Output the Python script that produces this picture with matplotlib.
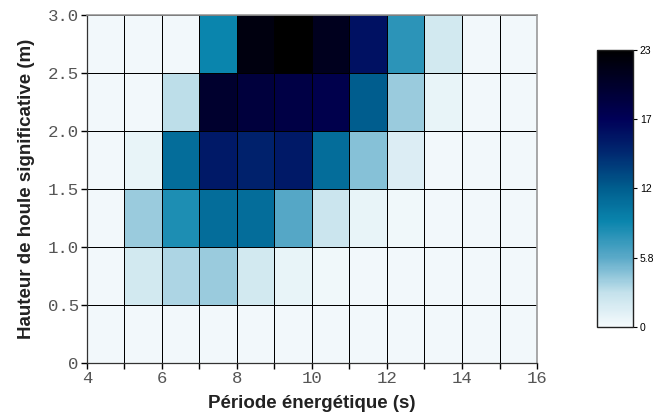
import numpy as np
import matplotlib
matplotlib.use("Agg")
import matplotlib.pyplot as plt
from matplotlib.colors import LinearSegmentedColormap

# Data
period_edges = [4, 5, 6, 7, 8, 9, 10, 11, 12, 13, 14, 15, 16]
height_edges = [0.0, 0.5, 1.0, 1.5, 2.0, 2.5, 3.0]
# rows from bottom (0-0.5) to top (2.5-3.0), columns period 4..15
occurrence = [
    [0.2, 0.2, 0.2, 0.2, 0.2, 0.2, 0.2, 0.2, 0.2, 0.2, 0.2, 0.2],
    [0.2, 2.0, 3.5, 4.0, 2.0, 0.8, 0.3, 0.2, 0.2, 0.2, 0.2, 0.2],
    [0.2, 4.0, 8.0, 10.5, 10.5, 6.0, 2.5, 0.8, 0.3, 0.2, 0.2, 0.2],
    [0.2, 0.8, 10.5, 15.5, 15.0, 15.5, 10.5, 4.5, 1.5, 0.2, 0.2, 0.2],
    [0.2, 0.2, 3.0, 20.0, 19.0, 18.5, 18.0, 11.5, 4.0, 0.8, 0.2, 0.2],
    [0.2, 0.2, 0.2, 8.8, 22.0, 23.0, 21.0, 16.0, 7.5, 2.0, 0.2, 0.2],
]
cbar_ticks = [0, 5.75, 11.5, 17.25, 23]
cbar_ticklabels = ["0", "5.8", "12", "17", "23"]
x_ticklabels = ["4", "6", "8", "10", "12", "14", "16"]
y_ticklabels = ["0", "0.5", "1.0", "1.5", "2.0", "2.5", "3.0"]

cmap = LinearSegmentedColormap.from_list(
    "houle",
    [(0.0, "#f5fafc"), (0.12, "#c5e2ec"), (0.25, "#5aa9c8"), (0.38, "#0a85ad"),
     (0.5, "#005e8e"), (0.63, "#002870"), (0.75, "#000058"), (1.0, "#000000")])

fig = plt.figure(figsize=(6.56, 4.15), dpi=100)
ax = fig.add_axes([0.1326, 0.1253, 0.686, 0.8386])
Z = np.array(occurrence)
mesh = ax.pcolormesh(period_edges, height_edges, Z, cmap=cmap, vmin=0, vmax=23,
                     edgecolors="black", linewidth=0.6)
ax.set_xlim(4, 16)
ax.set_ylim(0, 3)

mono = "Liberation Mono"
ax.set_xticks([4, 6, 8, 10, 12, 14, 16])
ax.set_xticklabels(x_ticklabels, fontfamily=mono, fontsize=12.5, color="#555555")
ax.set_xticks(range(5, 16, 2), minor=True)
ax.set_yticks([0, 0.5, 1.0, 1.5, 2.0, 2.5, 3.0])
ax.set_yticklabels(y_ticklabels, fontfamily=mono, fontsize=12.5, color="#555555")
ax.tick_params(axis="both", which="both", direction="out", length=4, width=1, color="black")
ax.tick_params(axis="x", which="major", pad=2)
ax.tick_params(axis="y", which="major", pad=2)

for s in ["top", "right"]:
    ax.spines[s].set_color("#999999")
    ax.spines[s].set_linewidth(1.2)
for s in ["left", "bottom"]:
    ax.spines[s].set_color("#333333")
    ax.spines[s].set_linewidth(0.9)

ax.set_xlabel("Période énergétique (s)", fontfamily="Liberation Sans", fontweight="bold",
              fontsize=13.5, color="#222222", labelpad=6)
ax.set_ylabel("Hauteur de houle significative (m)", fontfamily="Liberation Sans",
              fontweight="bold", fontsize=13.5, color="#222222", labelpad=9)

cax = fig.add_axes([0.910, 0.212, 0.0549, 0.668])
cb = fig.colorbar(mesh, cax=cax)
cb.set_ticks(cbar_ticks)
cb.set_ticklabels(cbar_ticklabels)
cb.ax.tick_params(labelsize=7.5, length=3, width=0.8, pad=2)
for t in cb.ax.get_yticklabels():
    t.set_fontfamily("Liberation Sans")
cb.outline.set_linewidth(1.0)
cb.outline.set_edgecolor("#222222")

fig.savefig("out.png", dpi=100)
